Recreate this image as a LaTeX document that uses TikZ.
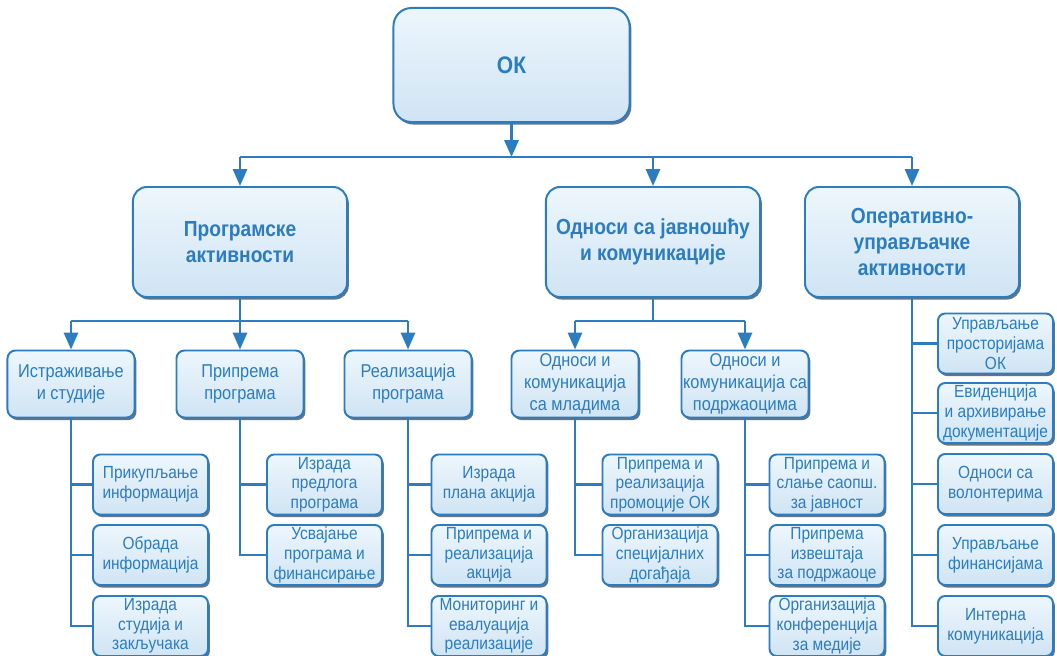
\documentclass[tikz,border=0pt]{standalone}
\usepackage{fontspec}
\setmainfont{Liberation Sans}[FakeStretch=0.88]
\usetikzlibrary{arrows.meta,shadows}
\definecolor{okplava}{HTML}{2B7CC1}
\definecolor{oksvetla}{HTML}{EDF6FC}
\definecolor{oktamna}{HTML}{D0E4F4}
\tikzset{
  kutija/.style={draw=okplava, line width=1.4pt, top color=oksvetla, bottom color=oktamna,
    text=okplava, align=center, inner sep=1pt,
    drop shadow={shadow xshift=1.3pt, shadow yshift=-1.8pt, fill=black!65!okplava, opacity=0.65}},
  koren/.style={kutija, minimum width=5.9cm, minimum height=2.85cm, rounded corners=0.45cm,
    font=\fontsize{17}{20}\selectfont\bfseries},
  sektor/.style={kutija, minimum width=5.35cm, minimum height=2.75cm, rounded corners=0.35cm,
    font=\fontsize{15.5}{18.8}\selectfont\bfseries},
  grupa/.style={kutija, minimum width=3.175cm, minimum height=1.675cm, rounded corners=0.2cm,
    font=\fontsize{13.2}{15.4}\selectfont},
  zadatak/.style={kutija, minimum width=2.875cm, minimum height=1.5cm, rounded corners=0.18cm,
    font=\fontsize{12.5}{14}\selectfont},
  veza/.style={draw=okplava, line width=1.9pt},
  strelica/.style={veza, -{Triangle[length=12pt,width=10pt]}},
}
\begin{document}
\begin{tikzpicture}[x=0.025cm, y=-0.025cm]
  \path[use as bounding box, fill=white] (0,0) rectangle (1057,656);
  % Vrh
  \node[koren] (ok) at (511.5,65) {ОК};
  % Sektori
  \node[sektor] (prog) at (240,242) {Програмске\\активности};
  \node[sektor] (odn) at (653,242) {Односи са јавношћу\\и комуникације};
  \node[sektor] (oper) at (912,242) {Оперативно-\\управљачке\\активности};
  % Grupe poslova
  \node[grupa] (ist) at (71,384) {Истраживање\\и студије};
  \node[grupa] (prip) at (240,384) {Припрема\\програма};
  \node[grupa] (real) at (408,384) {Реализација\\програма};
  \node[grupa] (mlad) at (575,384) {Односи и\\комуникација\\са младима};
  \node[grupa] (podr) at (745,384) {Односи и\\комуникација са\\подржаоцима};
  % Zadaci
  \node[zadatak] (ist1) at (150.5,484.5) {Прикупљање\\информација};
  \node[zadatak] (ist2) at (150.5,555) {Обрада\\информација};
  \node[zadatak] (ist3) at (150.5,626) {Израда\\студија и\\закључака};
  \node[zadatak] (prip1) at (324.5,484.5) {Израда\\предлога\\програма};
  \node[zadatak] (prip2) at (324.5,555) {Усвајање\\програма и\\финансирање};
  \node[zadatak] (real1) at (489,484.5) {Израда\\плана акција};
  \node[zadatak] (real2) at (489,555) {Припрема и\\реализација\\акција};
  \node[zadatak] (real3) at (489,626) {Мониторинг и\\евалуација\\реализације};
  \node[zadatak] (mlad1) at (660,484.5) {Припрема и\\реализација\\промоције ОК};
  \node[zadatak] (mlad2) at (660,555) {Организација\\специјалних\\догађаја};
  \node[zadatak] (podr1) at (827,484.5) {Припрема и\\слање саопш.\\за јавност};
  \node[zadatak] (podr2) at (827,555) {Припрема\\извештаја\\за подржаоце};
  \node[zadatak] (podr3) at (827,626) {Организација\\конференција\\за медије};
  \node[zadatak] (oper1) at (995.5,343.5) {Управљање\\просторијама\\ОК};
  \node[zadatak] (oper2) at (995.5,413) {Евиденција\\и архивирање\\документације};
  \node[zadatak] (oper3) at (995.5,484) {Односи са\\волонтерима};
  \node[zadatak] (oper4) at (995.5,555) {Управљање\\финансијама};
  \node[zadatak] (oper5) at (995.5,626) {Интерна\\комуникација};
  % Veze: vrh -> sektori
  \coordinate (sab0) at (511.5,157);
  \draw[strelica] (ok.south) -- (sab0);
  \draw[veza] (prog.north |- sab0) -- (oper.north |- sab0);
  \foreach \s in {prog,odn,oper}
    \draw[strelica] (\s.north |- sab0) -- (\s.north);
  % Veze: sektori -> grupe
  \coordinate (sab1) at (240,321);
  \draw[veza] (prog.south) -- (sab1);
  \draw[veza] (ist.north |- sab1) -- (real.north |- sab1);
  \foreach \g in {ist,prip,real}
    \draw[strelica] (\g.north |- sab1) -- (\g.north);
  \coordinate (sab2) at (653,321);
  \draw[veza] (odn.south) -- (sab2);
  \draw[veza] (mlad.north |- sab2) -- (podr.north |- sab2);
  \foreach \g in {mlad,podr}
    \draw[strelica] (\g.north |- sab2) -- (\g.north);
  % Veze: grupe -> zadaci
  \foreach \z in {ist1,ist2,ist3}
    \draw[veza] (ist.south) |- (\z.west);
  \foreach \z in {prip1,prip2}
    \draw[veza] (prip.south) |- (\z.west);
  \foreach \z in {real1,real2,real3}
    \draw[veza] (real.south) |- (\z.west);
  \foreach \z in {mlad1,mlad2}
    \draw[veza] (mlad.south) |- (\z.west);
  \foreach \z in {podr1,podr2,podr3}
    \draw[veza] (podr.south) |- (\z.west);
  \foreach \z in {oper1,oper2,oper3,oper4,oper5}
    \draw[veza] (oper.south) |- (\z.west);
\end{tikzpicture}
\end{document}
